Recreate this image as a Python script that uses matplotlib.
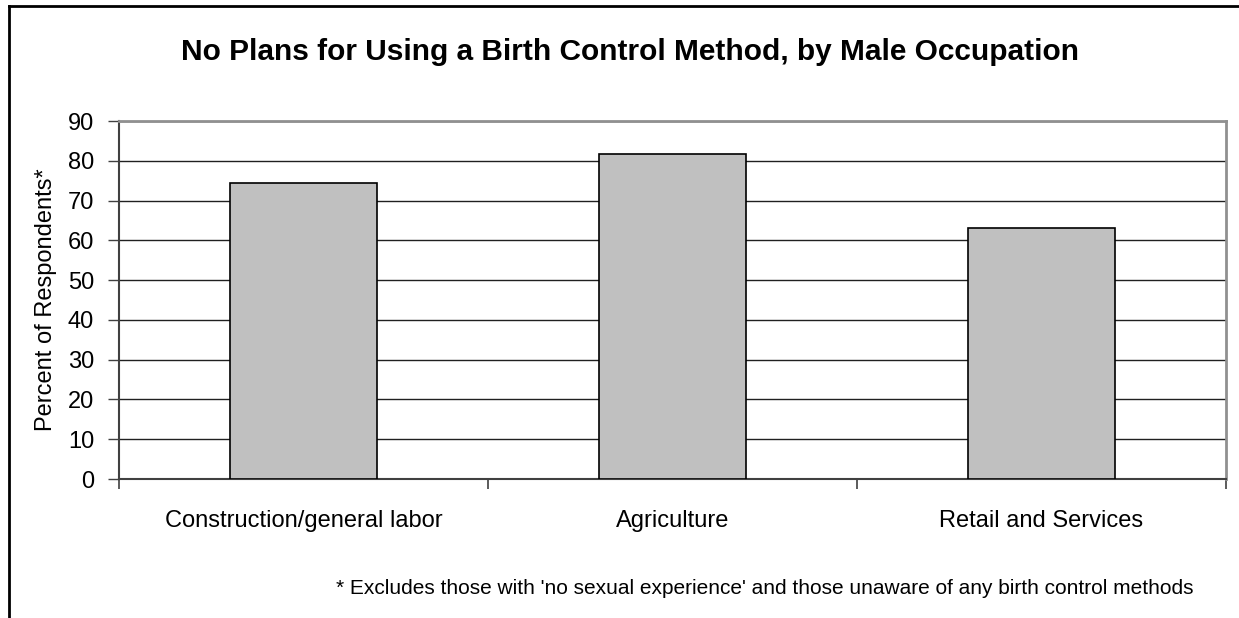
import matplotlib.pyplot as plt
from matplotlib.lines import Line2D

plt.rcParams['font.family'] = ['Liberation Sans', 'DejaVu Sans']

# data
occupations = ['Construction/general labor', 'Agriculture', 'Retail and Services']
percents = [74.4, 81.7, 63.0]
yticks = [0, 10, 20, 30, 40, 50, 60, 70, 80, 90]

fig = plt.figure(figsize=(12.39, 6.18), dpi=100)
ax = fig.add_axes([119 / 1239, 1 - 479 / 618, (1226 - 119) / 1239, (479 - 121) / 618])

x = range(len(occupations))
ax.bar(x, percents, width=0.4, color='#C0C0C0', edgecolor='black', linewidth=1.2, zorder=3)

ax.set_xlim(-0.5, len(occupations) - 0.5)
ax.set_ylim(0, 90)
ax.set_yticks(yticks)
ax.set_yticklabels([str(v) for v in yticks], fontsize=17)
ax.yaxis.grid(True, color='#202020', linewidth=1.0, zorder=0)

# category labels sit between boundary ticks
ax.set_xticks(list(x))
ax.set_xticklabels(occupations, fontsize=17)
ax.tick_params(axis='x', length=0, pad=22)
ax.set_xticks([i - 0.5 for i in range(len(occupations) + 1)], minor=True)
ax.tick_params(axis='x', which='minor', length=7, width=1.2, color='#404040')
ax.tick_params(axis='y', length=8, width=1.0, color='#404040', pad=10)

ax.set_ylabel('Percent of Respondents*', fontsize=17, labelpad=8)

for side in ['top', 'right']:
    ax.spines[side].set_color('#909090')
    ax.spines[side].set_linewidth(2)
for side in ['left', 'bottom']:
    ax.spines[side].set_color('#404040')
    ax.spines[side].set_linewidth(1.5)

fig.text(630 / 1239, 1 - 52 / 618, 'No Plans for Using a Birth Control Method, by Male Occupation',
         ha='center', va='center', fontsize=21.5, fontweight='bold')
fig.text(1194 / 1239, 1 - 588 / 618,
         "* Excludes those with 'no sexual experience' and those unaware of any birth control methods",
         ha='right', va='center', fontsize=15)

# outer chart border (only top and left visible in the picture)
fig.add_artist(Line2D([9 / 1239, 9 / 1239], [0, 1 - 6 / 618], transform=fig.transFigure,
                      color='black', linewidth=2))
fig.add_artist(Line2D([9 / 1239, 1], [1 - 6 / 618, 1 - 6 / 618], transform=fig.transFigure,
                      color='black', linewidth=2))

fig.savefig('out.png', dpi=100)
